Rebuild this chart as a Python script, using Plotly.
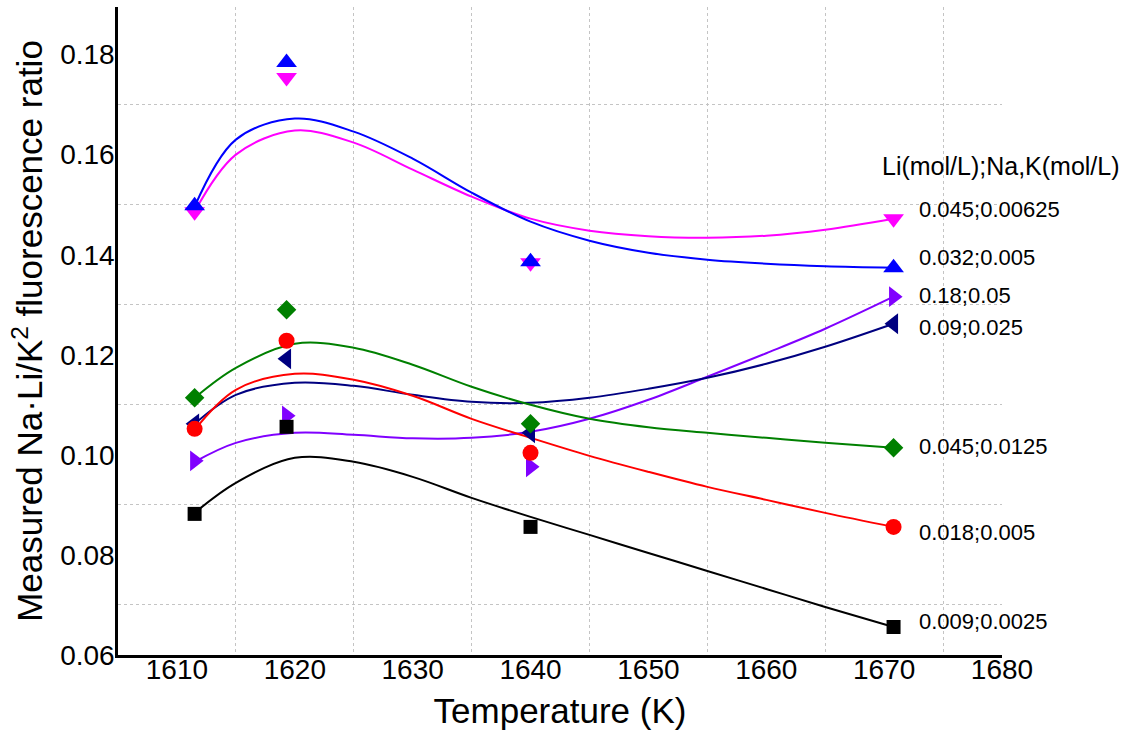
import plotly.graph_objects as go

# Measured points
temps = [1611.5, 1619.3, 1640.0, 1670.8]

labels = ["0.045;0.00625", "0.032;0.005", "0.18;0.05", "0.09;0.025",
          "0.045;0.0125", "0.018;0.005", "0.009;0.0025"]

pts_magenta = [0.1486, 0.1754, 0.1384, 0.1472]
pts_blue = [0.1498, 0.1784, 0.1386, 0.1374]
pts_purple = [0.0988, 0.1078, 0.0976, 0.1316]
pts_navy = [0.1062, 0.1192, 0.1044, 0.1262]
pts_green = [0.1114, 0.1290, 0.1062, 0.1014]
pts_red = [0.1052, 0.1228, 0.1004, 0.0856]
pts_black = [0.0882, 0.1056, 0.0856, 0.0656]

# Smoothed curves
curve_x = [1611.5, 1615, 1620, 1625, 1630, 1635, 1640, 1645, 1650, 1655, 1660, 1665, 1670.8]
curve_magenta = [0.1486, 0.1600, 0.1648, 0.1624, 0.1570, 0.1516, 0.1472, 0.1448, 0.1437, 0.1434, 0.1438, 0.1450, 0.1472]
curve_blue = [0.1496, 0.1630, 0.1672, 0.1646, 0.1592, 0.1524, 0.1466, 0.1428, 0.1404, 0.1390, 0.1382, 0.1377, 0.1374]
curve_purple = [0.0986, 0.1024, 0.1044, 0.1040, 0.1033, 0.1034, 0.1046, 0.1072, 0.1110, 0.1156, 0.1203, 0.1252, 0.1316]
curve_navy = [0.1062, 0.1120, 0.1144, 0.1138, 0.1120, 0.1106, 0.1104, 0.1114, 0.1132, 0.1154, 0.1182, 0.1216, 0.1262]
curve_green = [0.1114, 0.1174, 0.1222, 0.1214, 0.1180, 0.1136, 0.1100, 0.1072, 0.1055, 0.1044, 0.1034, 0.1024, 0.1014]
curve_red = [0.1050, 0.1130, 0.1162, 0.1150, 0.1118, 0.1072, 0.1034, 0.0998, 0.0966, 0.0936, 0.0910, 0.0884, 0.0856]
curve_black = [0.0884, 0.0944, 0.0994, 0.0986, 0.0956, 0.0914, 0.0876, 0.0840, 0.0804, 0.0768, 0.0732, 0.0696, 0.0656]

x_ticks = [1610, 1620, 1630, 1640, 1650, 1660, 1670, 1680]
y_ticks = [0.06, 0.08, 0.10, 0.12, 0.14, 0.16, 0.18]
y_tick_text = ["0.06", "0.08", "0.10", "0.12", "0.14", "0.16", "0.18"]

series = [
    # name, points, curve, color, symbol, size, label yshift
    (labels[0], pts_magenta, curve_magenta, "#FF00FF", "triangle-down", 18, 9),
    (labels[1], pts_blue, curve_blue, "#0000FF", "triangle-up", 18, 10),
    (labels[2], pts_purple, curve_purple, "#8000FF", "triangle-right", 18, 1),
    (labels[3], pts_navy, curve_navy, "#000080", "triangle-left", 18, -4),
    (labels[4], pts_green, curve_green, "#008000", "diamond", 15, 1),
    (labels[5], pts_red, curve_red, "#FF0000", "circle", 16, -6),
    (labels[6], pts_black, curve_black, "#000000", "square", 14, 5),
]

FONT = "Arial, Liberation Sans, sans-serif"

fig = go.Figure()
for name, pts, curve, color, symbol, size, ysh in series:
    fig.add_trace(go.Scatter(x=curve_x, y=curve, mode="lines",
                             line=dict(color=color, width=2, shape="spline", smoothing=1.0),
                             hoverinfo="skip", showlegend=False))
for name, pts, curve, color, symbol, size, ysh in series:
    fig.add_trace(go.Scatter(x=temps, y=pts, mode="markers", name=name,
                             marker=dict(symbol=symbol, size=size, color=color,
                                         line=dict(width=0)),
                             showlegend=False))
    fig.add_annotation(x=temps[-1], y=pts[-1], xref="x", yref="y",
                       text=name, showarrow=False, xanchor="left", yanchor="middle",
                       xshift=23, yshift=ysh,
                       font=dict(family=FONT, size=22, color="black"))

fig.add_annotation(x=(880 - 118) / (1002 - 118), y=0.1578, xref="paper", yref="y",
                   text="Li(mol/L);Na,K(mol/L)",
                   showarrow=False, xanchor="left", yanchor="middle",
                   font=dict(family=FONT, size=25, color="black"))

grid = dict(showgrid=True, gridcolor="#C4C4C4", griddash="dot", gridwidth=1)

fig.update_layout(
    width=1131, height=735,
    margin=dict(l=118, r=129, t=7, b=80),
    plot_bgcolor="white", paper_bgcolor="white",
    showlegend=False,
    font=dict(family=FONT, color="black"),
    xaxis=dict(range=[1605, 1680], tickvals=x_ticks, ticks="", showgrid=False,
               zeroline=False, showline=True, linecolor="black", linewidth=2.5,
               tickfont=dict(size=28, family=FONT, color="black"),
               ticklabelstandoff=-12,
               minor=dict(tick0=1615, dtick=10, ticks="", **grid),
               title=dict(text="Temperature (K)", font=dict(size=35, family=FONT, color="black"),
                          standoff=15),
               automargin=False),
    yaxis=dict(range=[0.06, 0.1895], tickvals=y_ticks, ticktext=y_tick_text, ticks="",
               showgrid=False, zeroline=False, showline=True, linecolor="black", linewidth=2.5,
               tickfont=dict(size=28, family=FONT, color="black"),
               ticklabelstandoff=-5,
               minor=dict(tick0=0.07, dtick=0.02, ticks="", **grid),
               title=dict(text="Measured Na\u00b7Li/K<sup>2</sup> fluorescence ratio",
                          font=dict(size=35, family=FONT, color="black"), standoff=7),
               automargin=False),
)

fig.write_html("out.html", config={"displayModeBar": False},
               post_script="document.body.style.margin='0';")
